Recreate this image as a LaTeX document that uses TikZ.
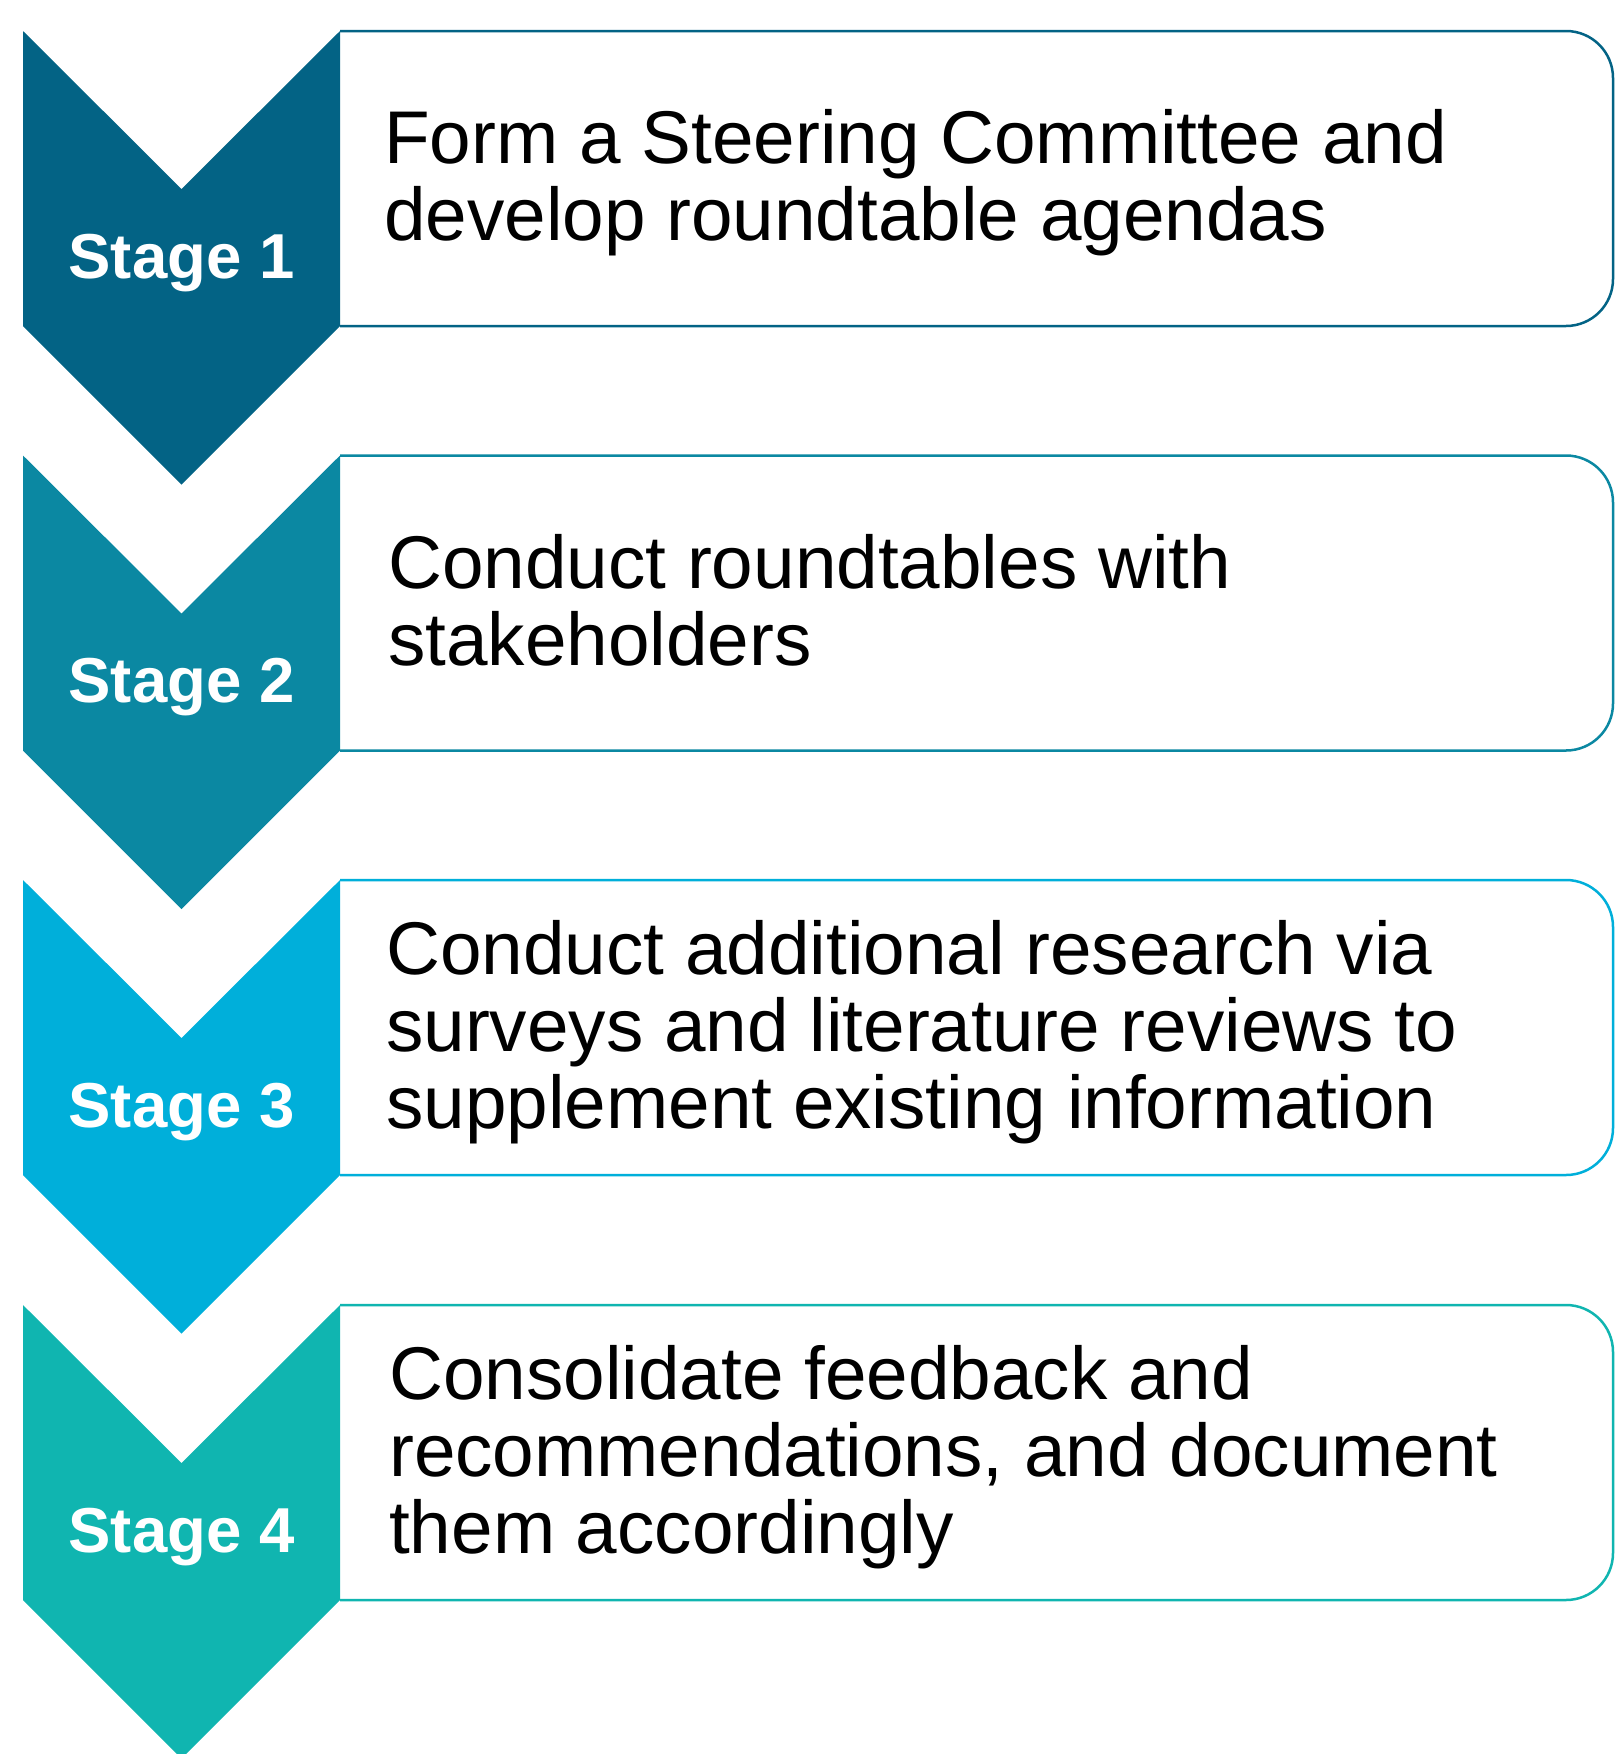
\documentclass[tikz,border=0pt]{standalone}
\usepackage{fontspec}
\setmainfont{Liberation Sans}
\definecolor{stageA}{HTML}{036385}
\definecolor{stageB}{HTML}{0B88A2}
\definecolor{stageC}{HTML}{00AFDA}
\definecolor{stageD}{HTML}{10B5B0}
\begin{document}
\begin{tikzpicture}[x=1pt,y=-1pt,
  chevronshape/.style={fill=#1, draw=none},
  panel/.style={draw=#1, line width=2.5pt, fill=white},
  stagelabel/.style={text=white, font=\fontsize{63.5}{70}\selectfont\bfseries,
                     anchor=base, inner sep=0pt},
  steptext/.style={font=\fontsize{74.7}{77}\selectfont, align=left,
                   anchor=base west, inner sep=0pt, text=black}]
\useasboundingbox (0,0) rectangle (1615,1754);

% one row per stage: index / colour / top edge / text left / last baseline offset / text
\foreach \i/\col/\y/\tx/\b/\txt in {
  1/stageA/31/384/209/{Form a Steering Committee and\\develop roundtable agendas},
  2/stageB/455.5/388/209.5/{Conduct roundtables with\\stakeholders},
  3/stageC/880/386/248/{Conduct additional research via\\surveys and literature reviews to\\supplement existing information},
  4/stageD/1305/389/248/{Consolidate feedback and\\recommendations, and document\\them accordingly}} {
  % text panel, rounded on the right only
  \draw[panel=\col] (340,\y) -- (1566,\y)
      arc[start angle=90, end angle=0, radius=47pt] -- (1613,\y+248)
      arc[start angle=0, end angle=-90, radius=47pt] -- (340,\y+295);
  % chevron pointing down
  \fill[chevronshape=\col] (23,\y) -- (181.5,\y+158) -- (340,\y) -- (340,\y+295)
      -- (181.5,\y+453.5) -- (23,\y+295) -- cycle;
  \node[stagelabel] (stage\i) at (181.5,\y+247) {Stage \i};
  \node[steptext] (task\i) at (\tx,\y+\b) {\txt};
}
\end{tikzpicture}
\end{document}
